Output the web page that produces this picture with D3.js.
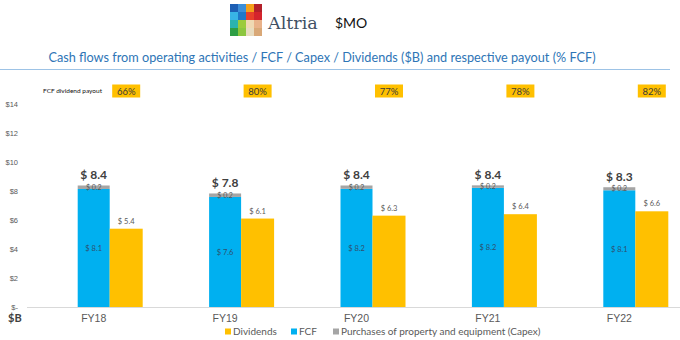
<!DOCTYPE html>
<html>
<head>
<meta charset="utf-8">
<script src="https://cdn.jsdelivr.net/npm/d3@7"></script>
<style>
  html, body { margin: 0; padding: 0; background: #fff; }
  svg { display: block; font-family: Lato, "Open Sans", sans-serif; }
</style>
</head>
<body>
<svg id="chart" width="680" height="340"></svg>
<script>
// Altria cash-flow figures, $B
const categories = ["FY18", "FY19", "FY20", "FY21", "FY22"];
const fcf        = [8.14, 7.59, 8.15, 8.22, 8.05];
const capex      = [0.24, 0.24, 0.23, 0.17, 0.21];
const dividends  = [5.4, 6.1, 6.3, 6.4, 6.6];
const payout     = ["66%", "80%", "77%", "78%", "82%"];
const yTicks     = [0, 2, 4, 6, 8, 10, 12, 14];

const BLUE = "#00B0F0", GOLD = "#FFC000", GRAY = "#A5A5A5";
const TXT = "#595959";

const svg = d3.select("#chart");

// ---- header: logo, ticker, title ----
const logoColors = [
  ["#1d5fb4", "#3b8fd9", "#f5a01a", "#b3202a"],
  ["#38b4e6", "#1f78c8", "#e8402a", "#d4242c"],
  ["#2bb3b0", "#9ccb3b", "#efd9b3", "#e9b28a"],
  ["#2e9e45", "#8cc63f", "#e8dcc0", "#d9a877"]
];
const logo = svg.append("g").attr("transform", "translate(230,4)");
logoColors.forEach((row, r) => row.forEach((c, k) => {
  logo.append("rect").attr("x", k * 8).attr("y", r * 8)
    .attr("width", 8).attr("height", 8).attr("fill", c);
}));
svg.append("text").attr("x", 268).attr("y", 29)
  .attr("font-family", "'DejaVu Serif', 'Liberation Serif', serif")
  .attr("font-size", 17.5).attr("fill", "#3f5064").text("Altria");
svg.append("text").attr("x", 335).attr("y", 28)
  .attr("font-size", 14).attr("fill", "#111").text("$MO");

svg.append("text").attr("x", 322).attr("y", 62)
  .attr("text-anchor", "middle").attr("font-size", 12.7).attr("fill", "#2E75B6")
  .text("Cash flows from operating activities / FCF / Capex / Dividends ($B) and respective payout (% FCF)");
svg.append("line").attr("x1", 0).attr("x2", 670).attr("y1", 69.5).attr("y2", 69.5)
  .attr("stroke", "#9DC3E6").attr("stroke-width", 1);

// ---- scales ----
const x = d3.scaleBand().domain(categories).range([28, 685]).padding(0);
const y = d3.scaleLinear().domain([0, 14]).range([307, 104]);
const barW = 32;
const cx = d => x(d) + x.bandwidth() / 2;

// ---- y axis ----
const yAxis = d3.axisLeft(y).tickValues(yTicks).tickSize(0)
  .tickFormat(d => d === 0 ? "$-" : "$" + d);
const yg = svg.append("g").attr("transform", "translate(21,0)").call(yAxis);
yg.select(".domain").remove();
yg.selectAll("text").attr("font-size", 7.5).attr("fill", TXT).attr("dx", 0)
  .attr("text-anchor", "end");

// baseline
svg.append("line").attr("x1", 27).attr("x2", 680)
  .attr("y1", y(0) + 0.5).attr("y2", y(0) + 0.5)
  .attr("stroke", "#D9D9D9").attr("stroke-width", 1);

// ---- x axis ----
const xAxis = d3.axisBottom(x).tickSize(0);
const xg = svg.append("g").attr("transform", `translate(0,${y(0) + 5})`).call(xAxis);
xg.select(".domain").remove();
xg.selectAll("text").attr("font-size", 10.5).attr("fill", TXT);

svg.append("text").attr("x", 8).attr("y", 322).attr("font-size", 11)
  .attr("font-weight", "bold").attr("fill", "#404040").text("$B");

// ---- bars ----
const data = categories.map((c, i) => ({
  c, fcf: fcf[i], capex: capex[i], div: dividends[i], pay: payout[i]
}));
const fmt = v => "$ " + d3.format(".1f")(v);

const g = svg.append("g");
// FCF
g.selectAll(".fcf").data(data).join("rect")
  .attr("x", d => cx(d.c) - barW / 2).attr("width", barW)
  .attr("y", d => y(d.fcf)).attr("height", d => y(0) - y(d.fcf))
  .attr("fill", BLUE);
// Capex stacked on top
g.selectAll(".capex").data(data).join("rect")
  .attr("x", d => cx(d.c) - barW / 2).attr("width", barW)
  .attr("y", d => y(d.fcf + d.capex)).attr("height", d => y(d.fcf) - y(d.fcf + d.capex))
  .attr("fill", GRAY);
// Dividends, beside the stack
g.selectAll(".div").data(data).join("rect")
  .attr("x", d => cx(d.c) + barW / 2).attr("width", barW + 1)
  .attr("y", d => y(d.div)).attr("height", d => y(0) - y(d.div))
  .attr("fill", GOLD);

// ---- value labels ----
g.selectAll(".lblTot").data(data).join("text")
  .attr("x", d => cx(d.c)).attr("y", d => y(d.fcf + d.capex) - 6)
  .attr("text-anchor", "middle").attr("font-size", 12).attr("font-weight", "bold")
  .attr("fill", "#404040").text(d => fmt(d.fcf + d.capex));
g.selectAll(".lblCapex").data(data).join("text")
  .attr("x", d => cx(d.c)).attr("y", d => y(d.fcf) + 1)
  .attr("text-anchor", "middle").attr("font-size", 7).attr("fill", "#595959")
  .text(d => fmt(d.capex));
g.selectAll(".lblFcf").data(data).join("text")
  .attr("x", d => cx(d.c)).attr("y", d => y(d.fcf / 2) + 3)
  .attr("text-anchor", "middle").attr("font-size", 7.5).attr("fill", "#2f4f6f")
  .text(d => fmt(d.fcf));
g.selectAll(".lblDiv").data(data).join("text")
  .attr("x", d => cx(d.c) + barW / 2 + (barW + 1) / 2).attr("y", d => y(d.div) - 5)
  .attr("text-anchor", "middle").attr("font-size", 7.5).attr("fill", "#595959")
  .text(d => fmt(d.div));

// ---- payout row ----
svg.append("text").attr("x", 43).attr("y", 93).attr("font-size", 6.5)
  .attr("fill", "#111").text("FCF dividend payout");
const pay = svg.append("g").selectAll("g").data(data).join("g")
  .attr("transform", d => `translate(${cx(d.c) + barW + 0.5},91)`);
pay.append("rect").attr("x", -14).attr("y", -6.5).attr("width", 28).attr("height", 13)
  .attr("fill", GOLD);
pay.append("text").attr("y", 3.5).attr("text-anchor", "middle").attr("font-size", 9.5)
  .attr("fill", "#3a3a3a").text(d => d.pay);

// ---- legend ----
const legendItems = [
  { label: "Dividends", color: GOLD, x: 225 },
  { label: "FCF", color: BLUE, x: 291 },
  { label: "Purchases of property and equipment (Capex)", color: GRAY, x: 333 }
];
const lg = svg.append("g").selectAll("g").data(legendItems).join("g")
  .attr("transform", d => `translate(${d.x},335)`);
lg.append("rect").attr("x", 0).attr("y", -6.5).attr("width", 6).attr("height", 6)
  .attr("fill", d => d.color);
lg.append("text").attr("x", 8).attr("y", 0).attr("font-size", 10)
  .attr("fill", TXT).text(d => d.label);
</script>
</body>
</html>
